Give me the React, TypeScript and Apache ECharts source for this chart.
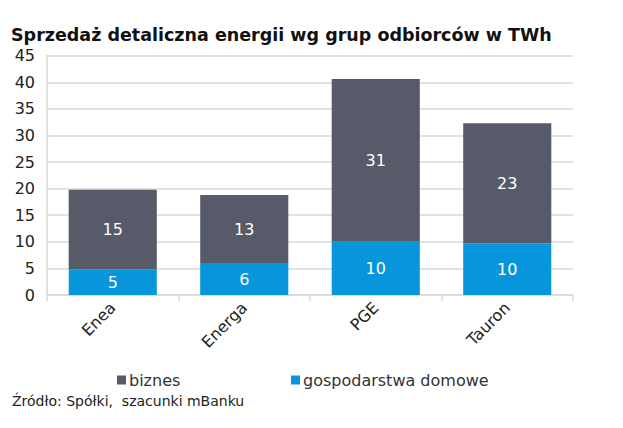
import React, { useEffect, useRef } from "react";
import * as echarts from "echarts";

const categories = ["Enea", "Energa", "PGE", "Tauron"];
const gospodarstwa = [4.8, 6.0, 10.0, 9.7];
const biznes = [15.0, 12.8, 30.6, 22.6];
const yTicks = { min: 0, max: 45, interval: 5 };

const FONT = "DejaVu Sans";
const GRID_COLOR = "#d9d9d9";
const DARK = "#575a68";
const BLUE = "#0795db";

export default function App() {
  const ref = useRef<HTMLDivElement>(null);
  useEffect(() => {
    if (!ref.current) return;
    const chart = echarts.init(ref.current, undefined, { renderer: "svg" });
    chart.setOption({
      animation: false,
      textStyle: { fontFamily: FONT },
      title: [
        {
          text: "Sprzedaż detaliczna energii wg grup odbiorców w TWh",
          left: 6,
          top: 21,
          textStyle: { fontFamily: FONT, fontSize: 17.5, fontWeight: "bold", color: "#111" },
        },
        {
          text: "Źródło: Spółki,  szacunki mBanku",
          left: 7,
          top: 389,
          textStyle: { fontFamily: FONT, fontSize: 14, fontWeight: "normal", color: "#222" },
        },
      ],
      legend: [
        {
          data: ["biznes"],
          left: 112,
          top: 367,
          itemWidth: 9,
          itemHeight: 9,
          icon: "rect",
          textStyle: { fontFamily: FONT, fontSize: 16, color: "#333", padding: [0, 0, 0, -2] },
        },
        {
          data: ["gospodarstwa domowe"],
          left: 286,
          top: 367,
          itemWidth: 9,
          itemHeight: 9,
          icon: "rect",
          textStyle: { fontFamily: FONT, fontSize: 16, color: "#333", padding: [0, 0, 0, -2] },
        },
      ],
      grid: { left: 47, right: 50, top: 55.7, bottom: 133 },
      xAxis: {
        type: "category",
        data: categories,
        boundaryGap: true,
        axisLine: { show: true, lineStyle: { color: GRID_COLOR, width: 1.5 } },
        axisTick: { show: true, length: 6, lineStyle: { color: GRID_COLOR, width: 1.5 } },
        axisLabel: { rotate: 45, fontFamily: FONT, fontSize: 16, color: "#222", margin: 10 },
      },
      yAxis: {
        type: "value",
        min: yTicks.min,
        max: yTicks.max,
        interval: yTicks.interval,
        axisLine: { show: true, lineStyle: { color: GRID_COLOR, width: 1.5 } },
        axisTick: { show: false },
        splitLine: { show: true, lineStyle: { color: GRID_COLOR, width: 1.5 } },
        axisLabel: { fontFamily: FONT, fontSize: 16, color: "#222", margin: 12 },
      },
      series: [
        {
          name: "gospodarstwa domowe",
          type: "bar",
          stack: "total",
          data: gospodarstwa,
          barCategoryGap: "33%",
          itemStyle: { color: BLUE },
          label: {
            show: true,
            position: "inside",
            color: "#fff",
            fontFamily: FONT,
            fontSize: 16,
            formatter: (p: any) => Math.round(p.value).toString(),
          },
        },
        {
          name: "biznes",
          type: "bar",
          stack: "total",
          data: biznes,
          barCategoryGap: "33%",
          itemStyle: { color: DARK },
          label: {
            show: true,
            position: "inside",
            color: "#fff",
            fontFamily: FONT,
            fontSize: 16,
            formatter: (p: any) => Math.round(p.value).toString(),
          },
        },
      ],
    });
    return () => chart.dispose();
  }, []);
  return (
    <div
      ref={ref}
      style={{ position: "fixed", left: 0, top: 0, width: 623, height: 428, background: "#fff" }}
    />
  );
}
